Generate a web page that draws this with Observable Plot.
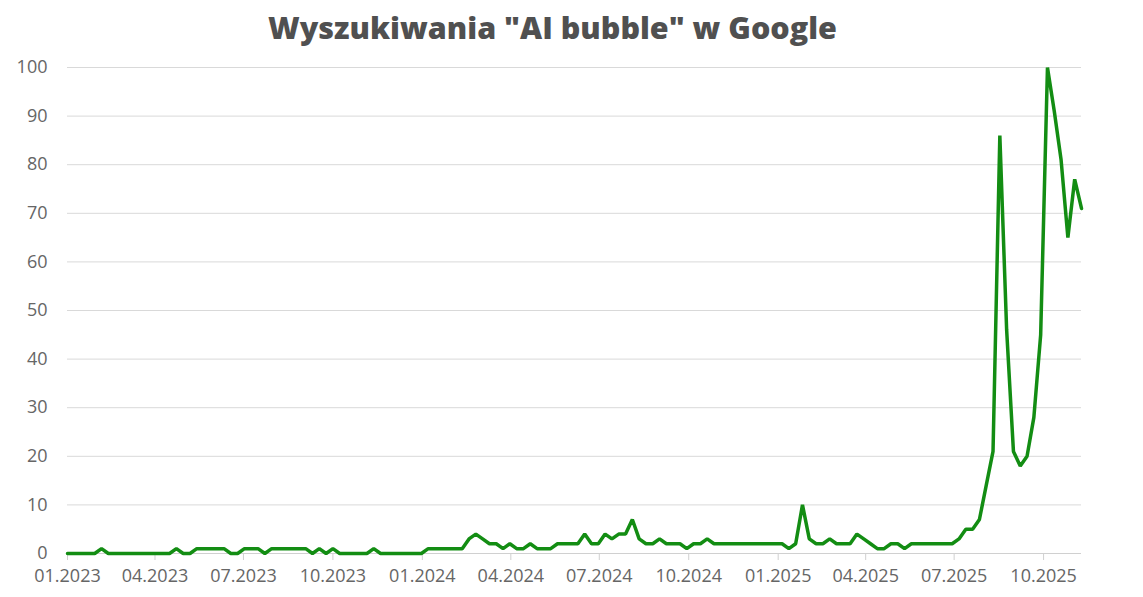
<!DOCTYPE html>
<html>
<head>
<meta charset="utf-8">
<script src="https://cdn.jsdelivr.net/npm/d3@7"></script>
<script src="https://cdn.jsdelivr.net/npm/@observablehq/plot@0.6"></script>
<style>
  html, body { margin: 0; padding: 0; background: #fff; }
  #title {
    height: 50px; line-height: 54px; text-align: center;
    font-family: "Open Sans", sans-serif; font-weight: 800; font-size: 30.5px;
    color: #505050; width: 1105px;
  }
  #chart svg { display: block; }
</style>
</head>
<body>
<div id="title">Wyszukiwania "AI bubble" w Google</div>
<div id="chart"></div>
<script>
// Weekly Google Trends index, first week starting 2023-01-01
const startDate = "2023-01-01";
const values = [
  0,0,0,0,0,1,0,0,0,0,
  0,0,0,0,0,0,1,0,0,1,
  1,1,1,1,0,0,1,1,1,0,
  1,1,1,1,1,1,0,1,0,1,
  0,0,0,0,0,1,0,0,0,0,
  0,0,0,1,1,1,1,1,1,3,
  4,3,2,2,1,2,1,1,2,1,
  1,1,2,2,2,2,4,2,2,4,
  3,4,4,7,3,2,2,3,2,2,
  2,1,2,2,3,2,2,2,2,2,
  2,2,2,2,2,2,1,2,10,3,
  2,2,3,2,2,2,4,3,2,1,
  1,2,2,1,2,2,2,2,2,2,
  2,3,5,5,7,14,21,86,46,21,
  18,20,28,45,100,91,81,65,77,71
];
const yTicks = [0,10,20,30,40,50,60,70,80,90,100];

const start = new Date(startDate + "T00:00:00Z");
const data = values.map((v, i) => ({date: d3.utcDay.offset(start, 7 * i), value: v}));
const xTicks = d3.utcMonth.every(3).range(start, data[data.length - 1].date);

const chart = Plot.plot({
  width: 1143,
  height: 547,
  marginLeft: 67,
  marginRight: 62,
  marginTop: 17,
  marginBottom: 44,
  style: {fontFamily: "Open Sans, sans-serif", fontSize: "18px", color: "#666", background: "#fff"},
  x: {type: "utc", domain: [data[0].date, data[data.length - 1].date], label: null},
  y: {domain: [0, 100], label: null},
  marks: [
    Plot.gridY(yTicks, {stroke: "#d9d9d9", strokeOpacity: 1, strokeWidth: 1}),
    Plot.axisX({ticks: xTicks, tickFormat: d3.utcFormat("%m.%Y"), tickSize: 7, tickPadding: 9,
                stroke: "#d0d0d0", fill: "#666", fontSize: 18, label: null}),
    Plot.axisY({ticks: yTicks, tickSize: 0, tickPadding: 20, fill: "#666", fontSize: 18, label: null}),
    Plot.ruleY([0], {stroke: "#d0d0d0"}),
    Plot.line(data, {x: "date", y: "value", stroke: "#138d13", strokeWidth: 3.5, strokeLinejoin: "miter"})
  ]
});
document.getElementById("chart").appendChild(chart);
</script>
</body>
</html>
